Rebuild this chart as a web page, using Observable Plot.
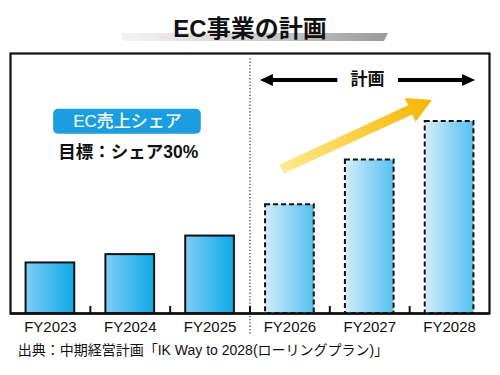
<!DOCTYPE html>
<html><head><meta charset="utf-8">
<script src="https://cdn.jsdelivr.net/npm/d3@7"></script>
<script src="https://cdn.jsdelivr.net/npm/@observablehq/plot@0.6"></script>
<style>
html,body{margin:0;padding:0;background:#fff;}
svg{display:block;}
</style>
</head><body>
<div id="chart"></div>
<script>
// ---- data ----
const years = ["FY2023", "FY2024", "FY2025", "FY2026", "FY2027", "FY2028"];
const values = [7.9, 9.2, 12.1, 17.0, 24.0, 30.0];
const isPlan = [false, false, false, true, true, true];
const titleText = "EC事業の計画";
const badgeText = "EC売上シェア";
const goalText = "目標：シェア30%";
const planText = "計画";
const sourceText = "出典：中期経営計画「IK Way to 2028(ローリングプラン)」";

const rows = years.map((year, i) => ({year, i, value: values[i], plan: isPlan[i]}));
const boundaries = d3.range(1, years.length).map(i => i - 0.5);
const half = 0.305;

// annotation anchors in data coordinates (x: category index, y: value units)
const titlePos = {x: 2.5, y: 44.4};
const titleBar = {x1: 0.903, x2: 4.235, y1: 43.75, y2: 42.5};
const badge = {x1: 0.04, x2: 1.89, y1: 31.9, y2: 28.0, cx: 0.966, cy: 29.95};
const goalPos = {x: 0.975, y: 25.2};
const planPos = {x: 3.972, y: 36.55};
const planArrowL = {x1: 3.6, x2: 2.63, y: 36.4};
const planArrowR = {x1: 4.36, x2: 5.325, y: 36.4};
const growth = {x1: 2.905, y1: 22.5, x2: 4.786, y2: 33.3};
const sourcePos = {x: -0.41, y: -5.8};

const FONT = "'Liberation Sans', 'Noto Sans CJK JP', sans-serif";

function arrowPoints(x1, y1, x2, y2, sw, hw, hl) {
  const dx = x2 - x1, dy = y2 - y1, L = Math.hypot(dx, dy);
  const ux = dx / L, uy = dy / L, nx = -uy, ny = ux;
  const bx = x2 - ux * hl, by = y2 - uy * hl;
  return [
    [x1 + nx * sw / 2, y1 + ny * sw / 2],
    [bx + nx * sw / 2, by + ny * sw / 2],
    [bx + nx * hw / 2, by + ny * hw / 2],
    [x2, y2],
    [bx - nx * hw / 2, by - ny * hw / 2],
    [bx - nx * sw / 2, by - ny * sw / 2],
    [x1 - nx * sw / 2, y1 - ny * sw / 2]
  ];
}

function defsMark() {
  const defs = d3.create("svg:defs");
  const g1 = defs.append("linearGradient").attr("id", "gSolid").attr("x1", 0).attr("x2", 1).attr("y1", 0).attr("y2", 0);
  g1.append("stop").attr("offset", 0).attr("stop-color", "#7fcef5");
  g1.append("stop").attr("offset", 1).attr("stop-color", "#0aa9e6");
  const g2 = defs.append("linearGradient").attr("id", "gPlan").attr("x1", 0).attr("x2", 1).attr("y1", 0).attr("y2", 0);
  g2.append("stop").attr("offset", 0).attr("stop-color", "#d3ecfb");
  g2.append("stop").attr("offset", 1).attr("stop-color", "#55c0ef");
  const g3 = defs.append("linearGradient").attr("id", "gTitle").attr("x1", 0).attr("x2", 1).attr("y1", 0).attr("y2", 0);
  g3.append("stop").attr("offset", 0).attr("stop-color", "#f4f4f4");
  g3.append("stop").attr("offset", 0.5).attr("stop-color", "#cfcfcf");
  g3.append("stop").attr("offset", 1).attr("stop-color", "#9a9a9a");
  return defs.node();
}

function shapesMark(index, scales) {
  const {x, y} = scales;
  const g = d3.create("svg:g");
  const tx1 = x(titleBar.x1), tx2 = x(titleBar.x2), ty1 = y(titleBar.y1), ty2 = y(titleBar.y2);
  g.append("polygon")
    .attr("points", [[tx1, ty1], [tx2, ty1], [tx2 - 4, ty2], [tx1, ty2]].map(p => p.join(",")).join(" "))
    .attr("fill", "url(#gTitle)");
  const ax1 = x(growth.x1), ay1 = y(growth.y1), ax2 = x(growth.x2), ay2 = y(growth.y2);
  const lg = g.append("linearGradient").attr("id", "gArrow").attr("gradientUnits", "userSpaceOnUse")
    .attr("x1", ax1).attr("y1", ay1).attr("x2", ax2).attr("y2", ay2);
  lg.append("stop").attr("offset", 0).attr("stop-color", "#fdeb90");
  lg.append("stop").attr("offset", 1).attr("stop-color", "#f6b400");
  g.append("polygon")
    .attr("points", arrowPoints(ax1, ay1, ax2, ay2, 10, 26, 24).map(p => p.join(",")).join(" "))
    .attr("fill", "url(#gArrow)");
  for (const a of [planArrowL, planArrowR]) {
    g.append("polygon")
      .attr("points", arrowPoints(x(a.x1), y(a.y), x(a.x2), y(a.y), 4, 12, 13).map(p => p.join(",")).join(" "))
      .attr("fill", "#000");
  }
  return g.node();
}

const chart = Plot.plot({
  width: 500,
  height: 375,
  marginTop: 53,
  marginBottom: 62,
  marginLeft: 10,
  marginRight: 11,
  style: {fontFamily: FONT, background: "#fff"},
  x: {domain: [-0.5, years.length - 0.5], axis: null},
  y: {domain: [0, 40.625], axis: null},
  marks: [
    defsMark,
    Plot.frame({stroke: "#111", strokeWidth: 2.2}),
    Plot.rect(rows.filter(d => !d.plan), {
      x1: d => d.i - half, x2: d => d.i + half, y1: 0, y2: "value",
      fill: "url(#gSolid)", stroke: "#111", strokeWidth: 2
    }),
    Plot.rect(rows.filter(d => d.plan), {
      x1: d => d.i - half, x2: d => d.i + half, y1: 0, y2: "value",
      fill: "url(#gPlan)", stroke: "#111", strokeWidth: 2, strokeDasharray: "5,3"
    }),
    Plot.ruleX([2.5], {y1: -3.2, y2: 40, stroke: "#333", strokeWidth: 1.2, strokeDasharray: "1.3,2"}),
    Plot.ruleX(boundaries, {y1: 0, y2: 1.1, stroke: "#111", strokeWidth: 2}),
    Plot.ruleY([0], {stroke: "#111", strokeWidth: 2.5}),
    shapesMark,
    Plot.text(rows, {x: "i", y: 0, text: "year", dy: 14, fontSize: 15, fill: "#111", fontFamily: FONT}),
    Plot.text([titleText], {x: titlePos.x, y: titlePos.y, text: d => d, fontSize: 24, fontWeight: "bold", fill: "#111", fontFamily: FONT}),
    Plot.rect([badge], {x1: "x1", x2: "x2", y1: "y1", y2: "y2", fill: "#1a9ee0", rx: 5}),
    Plot.text([badgeText], {x: badge.cx, y: badge.cy, text: d => d, fontSize: 17, fontWeight: 500, fill: "#fff", fontFamily: FONT}),
    Plot.text([goalText], {x: goalPos.x, y: goalPos.y, text: d => d, fontSize: 17.5, fontWeight: "bold", fill: "#111", fontFamily: FONT}),
    Plot.text([planText], {x: planPos.x, y: planPos.y, text: d => d, fontSize: 17, fontWeight: "bold", fill: "#111", fontFamily: FONT}),
    Plot.text([sourceText], {x: sourcePos.x, y: sourcePos.y, text: d => d, textAnchor: "start", fontSize: 14, fill: "#111", fontFamily: FONT})
  ]
});
document.getElementById("chart").appendChild(chart);
</script>
</body></html>
